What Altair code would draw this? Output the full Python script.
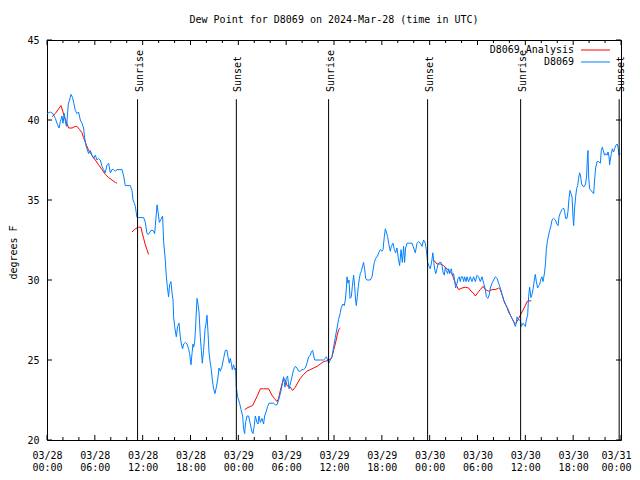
import altair as alt
import pandas as pd

# ---- D8069 observations (hours after 2024-03-28 00:00 UTC, degrees F)
blue_hours = [0.0, 0.41, 0.75, 1.04, 1.33, 1.51, 1.67, 1.88, 2.01, 2.17, 2.33, 2.46, 2.67, 2.83, 3.01,
              3.21, 3.34, 3.55, 3.76, 3.96, 4.18, 4.39, 4.59, 4.72, 4.89, 5.02, 5.22, 5.43, 5.64, 5.85,
              6.06, 6.27, 6.47, 6.69, 6.90, 7.10, 7.31, 7.53, 7.73, 7.94, 8.15, 8.35, 8.57, 8.78, 9.41,
              9.61, 9.82, 10.45, 10.66, 10.79, 10.95, 11.08, 11.20, 11.29, 11.49, 12.12, 12.33, 12.54,
              12.74, 13.05, 13.30, 13.50, 13.59, 13.80, 13.92, 14.09, 14.30, 14.50, 14.63, 14.84, 14.97,
              15.09, 15.25, 15.38, 15.55, 15.68, 15.81, 15.88, 16.01, 16.22, 16.38, 16.56, 16.72, 16.85,
              17.01, 17.14, 17.35, 17.56, 17.76, 17.89, 18.06, 18.19, 18.31, 18.39, 18.52, 18.60, 18.73,
              18.82, 18.94, 19.07, 19.23, 19.36, 19.48, 19.64, 19.82, 19.95, 20.07, 20.20, 20.32, 20.48,
              20.61, 20.74, 20.90, 21.07, 21.24, 21.40, 21.58, 21.74, 21.95, 22.15, 22.37, 22.58, 22.74,
              22.87, 22.99, 23.12, 23.24, 23.41, 23.53, 23.66, 23.75, 23.91, 24.16, 24.34, 24.54, 24.66,
              24.79, 24.91, 25.09, 25.29, 25.50, 25.72, 25.84, 26.00, 26.13, 26.34, 26.47, 26.59, 26.76,
              26.97, 27.17, 27.30, 27.51, 27.67, 27.85, 28.10, 28.42, 28.64, 28.85, 29.05, 29.27, 29.48,
              29.68, 29.85, 30.02, 30.18, 30.36, 30.52, 30.73, 30.93, 31.15, 31.36, 31.56, 31.77, 31.99,
              32.19, 32.40, 32.61, 32.82, 33.03, 33.15, 33.32, 33.44, 33.57, 33.87, 34.28, 34.70, 34.91,
              35.04, 35.20, 35.32, 35.54, 35.75, 35.95, 36.16, 36.38, 36.58, 36.79, 36.92, 37.13, 37.29,
              37.42, 37.54, 37.63, 37.76, 37.88, 38.01, 38.17, 38.30, 38.46, 38.59, 38.71, 38.80, 38.92,
              39.05, 39.18, 39.30, 39.46, 39.59, 39.71, 39.84, 39.97, 40.14, 40.56, 40.77, 40.89, 41.06,
              41.22, 41.47, 41.60, 41.81, 42.02, 42.15, 42.31, 42.44, 42.56, 42.73, 42.85, 43.06, 43.19,
              43.40, 43.57, 43.73, 43.90, 44.07, 44.23, 44.41, 44.57, 44.73, 44.86, 44.98, 45.16, 45.36,
              45.79, 45.99, 46.20, 46.41, 46.61, 46.83, 47.04, 47.24, 47.45, 47.58, 47.74, 47.89, 48.08,
              48.27, 48.40, 48.52, 48.65, 48.77, 48.92, 49.05, 49.21, 49.42, 49.55, 49.67, 49.84, 49.96,
              50.09, 50.25, 50.38, 50.50, 50.59, 50.72, 50.84, 51.00, 51.13, 51.26, 51.43, 51.56, 51.72,
              51.84, 51.97, 52.13, 52.26, 52.38, 52.56, 52.68, 52.89, 53.10, 53.31, 53.51, 53.73, 53.94,
              54.14, 54.35, 54.57, 54.77, 54.98, 55.11, 55.32, 55.48, 55.61, 55.82, 56.02, 56.24, 56.45,
              56.65, 56.86, 57.08, 57.28, 57.49, 57.70, 57.90, 58.12, 58.33, 58.53, 58.74, 58.87, 58.96,
              59.16, 59.37, 59.50, 59.71, 59.87, 60.00, 60.12, 60.29, 60.41, 60.54, 60.71, 60.84, 60.96,
              61.13, 61.25, 61.38, 61.54, 61.67, 61.79, 61.97, 62.09, 62.22, 62.29, 62.42, 62.54, 62.63,
              62.76, 62.92, 63.05, 63.22, 63.35, 63.55, 63.76, 63.97, 64.10, 64.23, 64.39, 64.60, 64.80,
              64.93, 65.05, 65.23, 65.35, 65.48, 65.61, 65.73, 65.86, 65.98, 66.06, 66.18, 66.31, 66.43,
              66.56, 66.68, 66.81, 66.93, 67.06, 67.24, 67.40, 67.56, 67.69, 67.78, 67.86, 67.94, 68.06,
              68.24, 68.40, 68.57, 68.69, 68.82, 68.99, 69.19, 69.41, 69.53, 69.66, 69.82, 69.95, 70.07,
              70.25, 70.37, 70.50, 70.57, 70.66, 70.79, 70.91, 71.07, 71.20, 71.33, 71.50, 71.63, 71.75,
              71.92]
blue_values = [40.4, 40.5, 40.4, 40.1, 39.7, 39.5, 39.9, 40.25, 39.8, 40.4, 39.8, 39.6, 41.0, 41.25, 41.6,
               41.4, 41.1, 40.6, 40.4, 40.5, 40.0, 39.8, 39.5, 38.9, 38.4, 38.2, 37.9, 38.1, 37.8, 37.6,
               37.8, 37.5, 37.6, 37.5, 37.1, 36.9, 36.7, 37.2, 37.3, 36.7, 36.9, 36.9, 36.8, 36.9, 36.9,
               36.5, 35.9, 35.9, 35.6, 35.0, 34.8, 34.6, 34.2, 33.9, 33.9, 33.9, 33.6, 32.9,
               32.85, 33.1, 33.1, 32.9, 33.4, 34.7, 34.3, 33.6, 33.8, 34.0, 32.4, 31.25, 30.2,
               29.6, 28.95, 29.7, 29.9, 29.2, 28.75, 27.7, 27.1, 26.45, 27.1, 27.3, 26.45, 26.0,
               25.7, 26.0, 26.1, 26.0, 25.7, 25.4, 24.7, 25.4, 26.0, 25.8, 26.1, 26.7, 28.0,
               28.85, 28.5, 28.0, 26.45, 25.6, 24.8, 25.6, 26.9, 27.3, 27.8, 26.7, 25.5, 24.8,
               24.4, 23.75, 23.2, 22.9, 23.3, 23.75, 24.5, 24.3, 24.6, 25.1, 25.6, 25.6, 25.1,
               24.8, 25.1, 24.8, 24.4, 24.7, 24.4, 24.5, 23.3, 22.7, 22.3, 21.9, 21.5, 20.7,
               20.4, 21.1, 21.5, 21.5, 21.0, 20.5, 20.4, 20.9, 21.5, 21.1, 21.0, 21.5, 21.1,
               21.35, 21.0, 21.5, 21.8, 22.1, 22.3, 22.3, 22.3, 22.2, 22.2, 22.5, 22.9, 23.4,
               23.95, 23.3, 23.85, 24.0, 23.2, 23.5, 23.95, 24.4, 24.6, 24.5, 24.3, 24.3, 24.4,
               24.4, 24.5, 24.8, 25.2, 25.3, 25.5, 25.6, 25.3, 25.0, 25.0, 25.0, 25.0, 25.1,
               25.2, 25.0, 24.8, 25.0, 25.2, 25.8, 26.4, 27.0, 27.55, 27.95, 28.3, 28.5, 28.4,
               28.75, 29.4, 30.2, 29.8, 30.0, 28.85, 28.95, 29.6, 30.3, 29.6, 28.75, 28.4, 28.95,
               29.6, 30.1, 30.4, 30.6, 30.9, 31.1, 30.7, 30.1, 30.0, 30.0, 30.2, 30.6, 31.1,
               31.35, 31.5, 31.7, 31.9, 31.8, 31.9, 32.7, 33.2, 33.0, 32.7, 32.3, 31.8, 32.1,
               32.3, 31.9, 31.7, 32.0, 31.35, 30.9, 31.9, 31.1, 32.1, 31.1, 32.0, 32.3, 32.3,
               32.3, 32.0, 31.7, 32.3, 32.4, 32.3, 32.1, 32.5, 32.3, 31.9, 31.1, 30.9, 30.7,
               31.2, 31.7, 31.1, 30.6, 30.4, 30.7, 31.0, 31.1, 31.1, 30.9, 30.5, 30.3, 30.8,
               30.6, 30.4, 30.7, 30.4, 30.6, 30.7, 30.3, 30.4, 30.0, 29.5, 29.8, 30.1, 30.2,
               29.9, 30.2, 30.2, 29.9, 30.2, 29.9, 30.2, 29.9, 30.2, 29.9, 30.2, 29.9, 30.3,
               30.2, 29.9, 30.2, 29.8, 29.4, 28.95, 28.85, 29.1, 29.5, 29.8, 30.0, 30.2, 30.1,
               29.8, 29.5, 29.1, 28.75, 28.5, 28.3, 28.1, 27.8, 27.6, 27.4, 27.1, 27.3, 27.7,
               27.5, 27.5, 27.1, 27.3, 27.2, 27.1, 27.5, 27.8, 28.95, 29.55, 28.9, 29.1, 29.4,
               30.0, 30.35, 29.9, 29.5, 29.65, 29.7, 30.1, 30.2, 29.9, 30.1, 30.5, 31.1, 31.9,
               32.4, 32.8, 33.1, 33.4, 33.75, 33.85, 33.75, 33.5, 33.4, 33.95, 34.2, 34.4, 34.5,
               34.3, 33.85, 33.85, 34.3, 35.1, 35.6, 35.4, 35.2, 33.95, 33.4, 34.5, 35.2, 35.7,
               35.9, 36.35, 36.7, 36.5, 36.0, 35.85, 35.85, 36.0, 36.5, 37.6, 38.1, 36.5, 35.7,
               35.6, 35.5, 35.4, 36.25, 37.0, 37.4, 37.4, 37.3, 38.1, 38.3, 38.0, 37.8, 37.9,
               37.8, 38.0, 37.7, 37.2, 37.5, 37.9, 38.2, 38.0, 38.2, 38.4, 38.5, 38.3, 37.8,
               37.9]

# ---- D8069 Analysis (four separate stretches)
red_hours_1 = [0.63, 1.04, 1.46, 1.76, 2.01, 2.17, 2.42, 2.71, 3.14, 3.55, 3.76, 4.09, 4.39, 4.59,
               4.89, 5.22, 5.64, 6.06, 6.47, 6.90, 7.31, 7.73, 8.15, 8.57, 8.78]
red_values_1 = [40.2, 40.4, 40.7, 40.9, 40.5, 40.2, 39.9, 39.5, 39.5, 39.6, 39.6, 39.4, 39.2, 38.9,
                38.5, 38.1, 37.8, 37.5, 37.2, 36.9, 36.6, 36.4, 36.25, 36.1, 36.05]
red_hours_2 = [10.66, 11.08, 11.49, 11.79, 11.92, 12.12, 12.33, 12.54, 12.74]
red_values_2 = [33.0, 33.2, 33.3, 33.3, 33.0, 32.6, 32.2, 31.9, 31.6]
red_hours_3 = [24.79, 25.09, 25.50, 25.79, 26.13, 26.42, 26.76, 27.17, 27.80, 28.22, 28.51, 28.85,
               29.05, 29.27, 29.48, 29.68, 29.89, 30.11, 30.52, 30.81, 31.15, 31.36, 31.77, 32.19,
               32.61, 33.03, 33.44, 33.87, 34.28, 34.70, 35.12, 35.54, 35.75, 35.95, 36.16, 36.38,
               36.58, 36.79]
red_values_3 = [21.9, 22.0, 22.1, 22.15, 22.5, 22.8, 23.2, 23.2, 23.2, 22.8, 22.6, 22.4,
                22.6, 23.1, 23.5, 23.85, 23.75, 23.4, 23.3, 23.1, 23.3, 23.5, 23.85, 24.1,
                24.3, 24.4, 24.5, 24.6, 24.75, 24.9, 24.95, 25.05, 25.2, 25.6, 26.0, 26.5,
                26.9, 27.0]
red_hours_4 = [48.50, 48.92, 49.34, 49.75, 50.18, 50.59, 50.80, 51.00, 51.22, 51.43, 51.63, 52.06,
               52.47, 52.89, 53.19, 53.44, 53.73, 54.02, 54.35, 54.69, 54.98, 55.40, 55.82, 56.24,
               56.65, 56.86, 57.08, 57.28, 57.49, 57.70, 57.90, 58.12, 58.33, 58.53, 58.74, 58.96,
               59.16, 59.37, 59.58, 59.79, 60.00, 60.21, 60.41, 60.75]
red_values_4 = [31.25, 31.0, 31.0, 30.9, 30.7, 30.5, 30.4, 30.1, 29.8, 29.6, 29.4, 29.5,
                29.55, 29.5, 29.3, 29.2, 29.0, 29.2, 29.4, 29.6, 29.4, 29.3, 29.4, 29.4,
                29.5, 29.4, 29.1, 28.75, 28.5, 28.3, 28.0, 27.8, 27.6, 27.4, 27.3, 27.4,
                27.6, 27.8, 28.0, 28.2, 28.4, 28.65, 28.7, 28.7]

# ---- Sunrise / sunset markers
event_hours = [11.36, 23.75, 35.32, 47.74, 59.41, 71.77]
event_labels = ["Sunrise", "Sunset", "Sunrise", "Sunset", "Sunrise", "Sunset"]
event_line_top = 41.3
event_label_base = 41.75

y_tick_values = [20, 25, 30, 35, 40, 45]
x_major_ticks = [0, 6, 12, 18, 24, 30, 36, 42, 48, 54, 60, 66, 72]
x_minor_ticks = [2, 4, 8, 10, 14, 16, 20, 22, 26, 28, 32, 34, 38, 40, 44, 46, 50, 52, 56, 58, 62, 64, 68, 70]

series_names = ["D8069 Analysis", "D8069"]

FONT = "DejaVu Sans Mono"
W, H = 574, 400
BLUE = "#0080ff"
RED = "#ff0000"

blue_df = pd.DataFrame({"h": blue_hours, "v": blue_values})
red_parts = []
for i, (hs, vs) in enumerate([(red_hours_1, red_values_1), (red_hours_2, red_values_2),
                              (red_hours_3, red_values_3), (red_hours_4, red_values_4)]):
    red_parts.append(pd.DataFrame({"h": hs, "v": vs, "seg": i}))
red_df = pd.concat(red_parts, ignore_index=True)
ev_df = pd.DataFrame({"h": event_hours, "label": event_labels,
                      "top": event_line_top, "base": event_label_base, "bottom": 20})

label_expr = ("['03/' + (28 + floor(datum.value / 24)), "
              "(datum.value % 24 < 10 ? '0' : '') + (datum.value % 24) + ':00']")

x_scale = alt.Scale(domain=[0, 72], nice=False, zero=False)
y_scale = alt.Scale(domain=[20, 45], nice=False, zero=False)

x_enc = alt.X("h:Q", scale=x_scale, title=None,
              axis=alt.Axis(values=x_major_ticks, labelExpr=label_expr, ticks=False, domain=False,
                            grid=False, labelFont=FONT, labelFontSize=10, labelColor="black",
                            labelPadding=10, labelLineHeight=12, labelBaseline="top",
                            labelAlign="center", labelFlush=False, labelOverlap=False,
                            labelOffset={"condition": {"test": "datum.value == 72", "value": -5},
                                         "value": 0}))
y_enc = alt.Y("v:Q", scale=y_scale, title="degrees F",
              axis=alt.Axis(values=y_tick_values, ticks=False, domain=False, grid=False,
                            labelFont=FONT, labelFontSize=10, labelColor="black", labelPadding=8,
                            titleFont=FONT, titleFontSize=10, titleFontWeight="normal",
                            titleColor="black", titleAngle=270, titleX=-34, titleY=212,
                            titleAlign="center", titleBaseline="middle"))

red_line = alt.Chart(red_df).mark_line(color=RED, strokeWidth=1).encode(
    x=x_enc, y=y_enc, detail="seg:N")
blue_line = alt.Chart(blue_df).mark_line(color=BLUE, strokeWidth=1).encode(x="h:Q", y="v:Q")

ev_rules = alt.Chart(ev_df).mark_rule(color="black", strokeWidth=1).encode(
    x="h:Q", y="top:Q", y2="bottom")
ev_text = alt.Chart(ev_df).mark_text(font=FONT, fontSize=10, color="black", angle=270,
                                     align="left", baseline="middle", dy=2).encode(
    x="h:Q", y="base:Q", text="label:N")

xmaj = pd.DataFrame({"h": x_major_ticks})
xmin = pd.DataFrame({"h": x_minor_ticks})
ytk = pd.DataFrame({"v": y_tick_values})
tick_layers = [
    alt.Chart(xmaj).mark_rule(color="black").encode(x="h:Q", y=alt.value(H), y2=alt.value(H - 5)),
    alt.Chart(xmaj).mark_rule(color="black").encode(x="h:Q", y=alt.value(0), y2=alt.value(5)),
    alt.Chart(xmin).mark_rule(color="black").encode(x="h:Q", y=alt.value(H), y2=alt.value(H - 3)),
    alt.Chart(xmin).mark_rule(color="black").encode(x="h:Q", y=alt.value(0), y2=alt.value(3)),
    alt.Chart(ytk).mark_rule(color="black").encode(y="v:Q", x=alt.value(0), x2=alt.value(5)),
    alt.Chart(ytk).mark_rule(color="black").encode(y="v:Q", x=alt.value(W - 5), x2=alt.value(W)),
]

leg_layers = []
for name, col, ypix in zip(series_names, [RED, BLUE], [10, 22]):
    one = pd.DataFrame({"name": [name]})
    leg_layers.append(alt.Chart(one).mark_text(font=FONT, fontSize=10, color="black", align="right",
                                               baseline="middle").encode(
        text="name:N", x=alt.value(527), y=alt.value(ypix)))
    leg_layers.append(alt.Chart(one).mark_rule(color=col, strokeWidth=1).encode(
        x=alt.value(534), x2=alt.value(563), y=alt.value(ypix)))

chart = alt.layer(
    red_line, blue_line, ev_rules, ev_text, *tick_layers, *leg_layers
).properties(
    width=W, height=H,
    autosize=alt.AutoSizeParams(type="none"),
    padding={"left": 39, "top": 32, "right": 11, "bottom": 31},
    title=alt.Title("Dew Point for D8069 on 2024-Mar-28 (time in UTC)", font=FONT, fontSize=10,
                    fontWeight="normal", color="black", anchor="middle", offset=10),
).configure_view(stroke="black", strokeWidth=1)

chart.save("out.html", embed_options={"renderer": "svg", "actions": False})
